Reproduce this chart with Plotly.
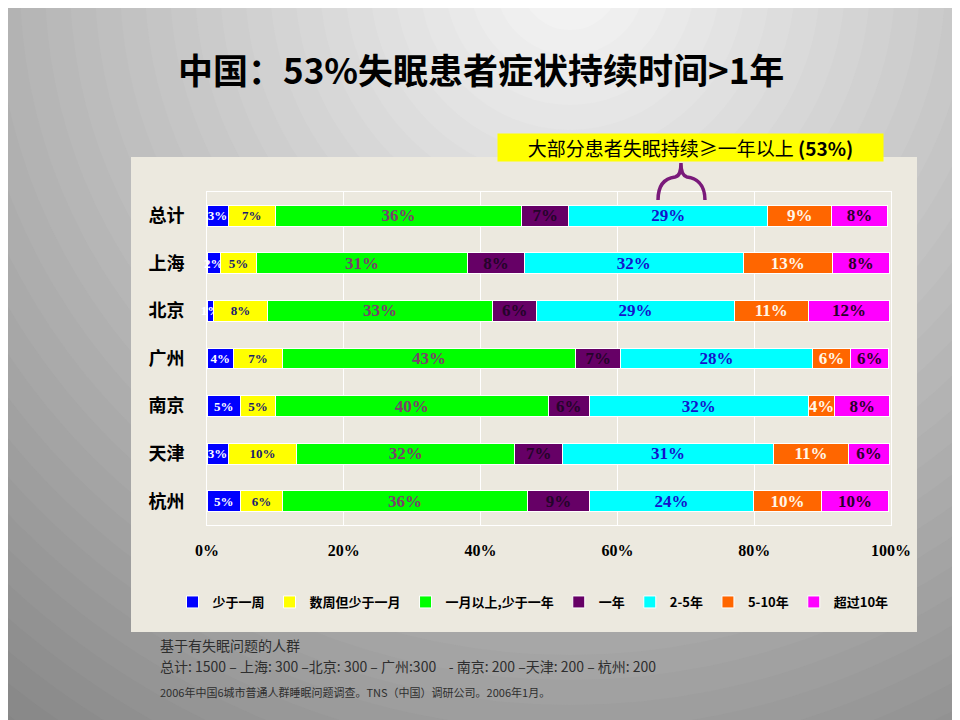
import plotly.graph_objects as go

# 城市 (top to bottom)
cities = ["总计", "上海", "北京", "广州", "南京", "天津", "杭州"]

# share of patients per duration band, %
less_week = [3.1, 2.0, 1.0, 3.9, 4.9, 3.1, 4.9]
weeks_month = [6.9, 5.2, 7.8, 7.1, 5.1, 10.0, 6.1]
month_year = [36.0, 30.9, 33.0, 42.9, 39.9, 31.9, 35.9]
one_year = [6.9, 8.3, 6.4, 6.6, 6.0, 7.0, 9.0]
two_five = [29.1, 32.0, 28.9, 28.0, 32.0, 30.8, 24.0]
five_ten = [9.3, 13.0, 10.8, 5.6, 3.9, 11.0, 9.9]
over_ten = [8.2, 8.4, 11.9, 5.6, 8.0, 6.0, 9.9]

series_names = ["少于一周", "数周但少于一月", "一月以上,少于一年", "一年",
                "2-5年", "5-10年", "超过10年"]
x_ticks = [0, 20, 40, 60, 80, 100]
x_tick_text = ["0%", "20%", "40%", "60%", "80%", "100%"]

W, H = 960, 720
OFF = 8  # page body margin in the browser


def fx(px):
    return (px - OFF) / W


def fy(py):
    return 1 - (py - OFF) / H


series = [less_week, weeks_month, month_year, one_year, two_five, five_ten, over_ten]
colors = ["#0000FF", "#FFFF00", "#00FF00", "#660066", "#00FFFF", "#FF6600", "#FF00FF"]
text_colors = ["#FFFFFF", "#1C1C70", "#7B3F6B", "#24042A", "#1414CC", "#FFF6E8", "#2A002A"]
text_sizes = [13, 13, 17, 17, 17, 17, 17]

fig = go.Figure()
for name, vals, col, tcol, tsize in zip(series_names, series, colors, text_colors, text_sizes):
    fig.add_trace(go.Bar(
        y=cities, x=vals, name=name, orientation="h",
        marker=dict(color=col, line=dict(color="white", width=1)),
        texttemplate="%{x:.0f}%", textposition="inside",
        insidetextanchor="middle", textangle=0, constraintext="none",
        cliponaxis=False,
        textfont=dict(family="Liberation Serif", size=tsize, color=tcol, weight="bold"),
    ))

# background: radial grey gradient, light at the top centre
shapes = []
cx, cy = 570, -20
r = 1250
while r > 0:
    g = int(max(125, 248 - 0.12 * r))
    shapes.append(dict(type="circle", xref="paper", yref="paper", layer="below",
                       x0=fx(cx - r), x1=fx(cx + r), y0=fy(cy + r), y1=fy(cy - r),
                       fillcolor="rgb(%d,%d,%d)" % (g, g, g), line=dict(width=0)))
    r -= 25

# beige chart panel
shapes.append(dict(type="rect", xref="paper", yref="paper", layer="below",
                   x0=fx(131), x1=fx(917), y0=fy(632), y1=fy(157),
                   fillcolor="#ECE9DF", line=dict(width=0)))

# purple brace under the call-out
def pt(px, py):
    return "%.4f,%.4f" % (fx(px), fy(py))

brace = ("M " + pt(658, 200) + " C " + pt(658, 183) + " " + pt(667, 178) + " " + pt(675, 177)
         + " C " + pt(680, 176) + " " + pt(681, 171) + " " + pt(681, 163)
         + " C " + pt(681, 171) + " " + pt(683, 176) + " " + pt(687, 177)
         + " C " + pt(695, 178) + " " + pt(705, 183) + " " + pt(705, 200))
shapes.append(dict(type="path", xref="paper", yref="paper", path=brace,
                   line=dict(color="#7A1A7A", width=3.5)))

annotations = [
    dict(text="<b>中国：53%失眠患者症状持续时间>1年</b>", x=fx(481), y=fy(68),
         xref="paper", yref="paper", showarrow=False, xanchor="center", yanchor="middle",
         font=dict(family="Noto Sans CJK SC", size=35, color="black")),
    dict(text="大部分患者失眠持续≥一年以上 <b>(53%)</b>", x=fx(690), y=fy(147),
         xref="paper", yref="paper", showarrow=False, xanchor="center", yanchor="middle",
         width=383, height=25, bgcolor="#FFFF00", borderpad=1,
         font=dict(family="Noto Sans CJK SC", size=19, color="black")),
    dict(text="基于有失眠问题的人群", x=fx(158), y=fy(645),
         xref="paper", yref="paper", showarrow=False, xanchor="left", yanchor="middle",
         font=dict(family="Noto Sans CJK SC", size=14, color="#2E2E2E")),
    dict(text="总计: 1500 – 上海: 300 –北京: 300 – 广州:300 \u00a0 \u00a0- 南京: 200 –天津: 200 – 杭州: 200",
         x=fx(158), y=fy(666), xref="paper", yref="paper", showarrow=False,
         xanchor="left", yanchor="middle",
         font=dict(family="Noto Sans CJK SC", size=14, color="#2E2E2E")),
    dict(text="2006年中国6城市普通人群睡眠问题调查。TNS（中国）调研公司。2006年1月。",
         x=fx(158), y=fy(692), xref="paper", yref="paper", showarrow=False,
         xanchor="left", yanchor="middle",
         font=dict(family="Noto Sans CJK SC", size=11, color="#2E2E2E")),
]

fig.update_layout(
    width=W, height=H,
    margin=dict(l=0, r=0, t=0, b=0, autoexpand=False),
    paper_bgcolor="#9A9A9A",
    plot_bgcolor="rgba(0,0,0,0)",
    barmode="stack",
    bargap=0.56,
    showlegend=True,
    legend=dict(orientation="h", x=fx(533), y=fy(602), xanchor="center", yanchor="middle",
                bgcolor="rgba(0,0,0,0)", traceorder="normal", itemwidth=30,
                font=dict(family="Noto Sans CJK SC", size=13, color="black", weight="bold")),
    xaxis=dict(domain=[fx(207), fx(891)], range=[0, 100], tickvals=x_ticks,
               ticktext=x_tick_text, showgrid=True, gridcolor="white", gridwidth=1,
               showline=True, linecolor="white", mirror=True, zeroline=False,
               ticklabelstandoff=11, automargin=False,
               tickfont=dict(family="Liberation Serif", size=16, color="black", weight="bold")),
    yaxis=dict(domain=[fy(525), fy(192)], autorange="reversed", showgrid=False,
               showline=True, linecolor="white", mirror=True, ticklabelstandoff=18,
               automargin=False,
               tickfont=dict(family="Noto Sans CJK SC", size=18, color="black", weight="bold")),
    shapes=shapes,
    annotations=annotations,
)

fig.write_html("out.html")
